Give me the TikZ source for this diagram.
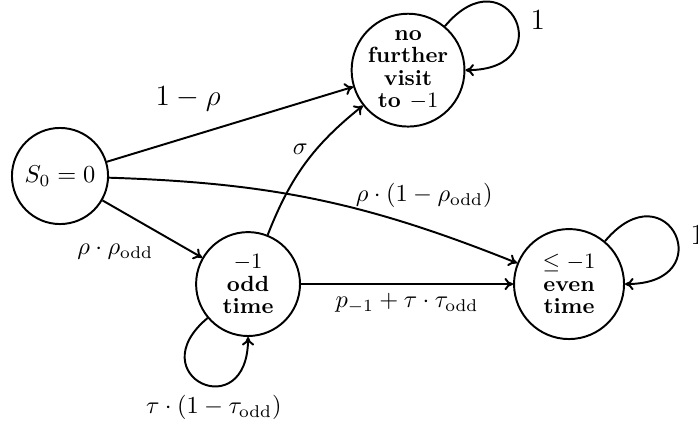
\documentclass[tikz,border=0pt]{standalone}
\usepackage{amsmath}
\usepackage{tikz}
\usetikzlibrary{arrows.meta, positioning}

\begin{document}
\begin{tikzpicture}[x=0.41pt, y=0.41pt,
  on grid,
  state/.style={circle, draw, thick, align=center, inner sep=0pt,
                font=\bfseries\fontsize{9}{9.2}\selectfont},
  trans/.style={-{To[length=3.5pt, width=5pt]}, thick}]
\useasboundingbox (0,0) rectangle (698,420);
\node[state, minimum size=39.4pt, font=\normalsize] (s0) at (60,244) {$S_0 = 0$};
\node[state, minimum size=42.6pt, below right=44.3pt and 77.1pt of s0] (odd) {$-1$\\ odd\\ time};
\node[state, minimum size=45.1pt, right=131.6pt of odd] (even) {$\le -1$\\ even\\ time};
\node[state, minimum size=45.9pt, above right=87.7pt and 65.6pt of odd] (nf) {no\\ further\\ visit\\ to $-1$};
\draw[trans] (s0) -- node[pos=0.33, above=7pt, font=\large] {$1-\rho$} (nf);
\draw[trans] (s0) to[bend left=10] node[pos=0.78, above=5pt] {$\rho\cdot(1-\rho_{\mathrm{odd}})$} (even);
\draw[trans] (s0) -- node[pos=0.6, below left] {$\rho\cdot\rho_{\mathrm{odd}}$} (odd);
\draw[trans] (odd) to[bend left=15] node[pos=0.62, left] {$\sigma$} (nf);
\draw[trans] (odd) -- node[below] {$p_{-1}+\tau\cdot\tau_{\mathrm{odd}}$} (even);
% self loops
\draw[trans] (nf) to[out=50, in=0, min distance=40pt] node[pos=0.5, right=2.5pt, font=\large] {$1$} (nf);
\draw[trans] (even) to[out=50, in=0, min distance=40pt] node[pos=0.5, right=2.5pt, font=\large] {$1$} (even);
\draw[trans] (odd) to[out=220, in=270, min distance=37pt] node[pos=0.6, below] {$\tau\cdot(1-\tau_{\mathrm{odd}})$} (odd);
\end{tikzpicture}
\end{document}
